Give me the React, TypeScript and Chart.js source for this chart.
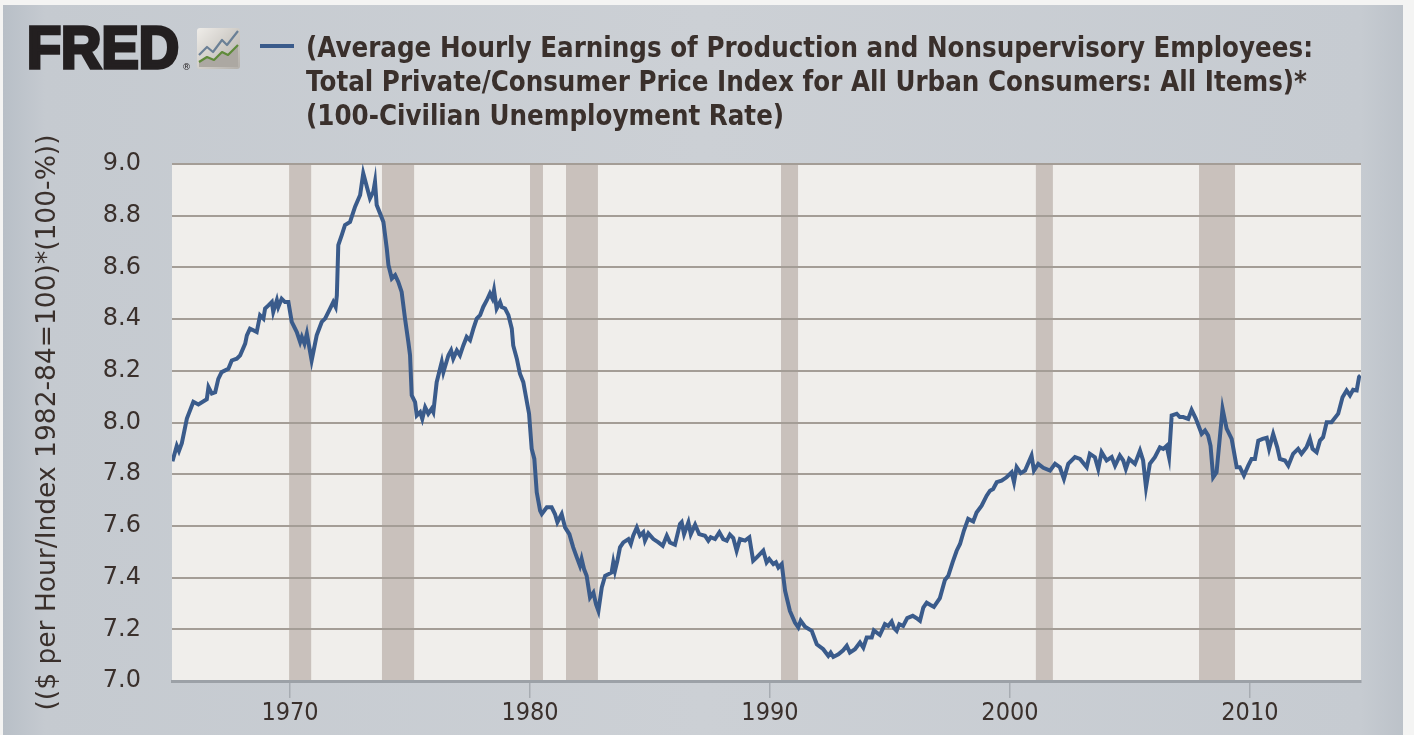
import { useEffect, useRef } from 'react';
import { Chart, registerables } from 'chart.js';

Chart.register(...registerables);

const obsDates = [
  1965.10, 1965.28, 1965.37, 1965.49, 1965.70, 1965.97, 1966.18, 1966.53, 1966.60, 1966.74,
  1966.88, 1967.01, 1967.15, 1967.43, 1967.57, 1967.78, 1967.92, 1968.13, 1968.20, 1968.33,
  1968.47, 1968.61, 1968.75, 1968.89, 1968.96, 1969.10, 1969.24, 1969.30, 1969.45, 1969.51,
  1969.65, 1969.79, 1969.93, 1970.07, 1970.28, 1970.42, 1970.49, 1970.60, 1970.70, 1970.90,
  1971.11, 1971.32, 1971.46, 1971.60, 1971.80, 1971.90, 1971.95, 1972.01, 1972.15, 1972.29,
  1972.50, 1972.71, 1972.92, 1973.05, 1973.20, 1973.33, 1973.47, 1973.54, 1973.61, 1973.75,
  1973.89, 1974.03, 1974.10, 1974.24, 1974.38, 1974.51, 1974.65, 1974.79, 1974.93, 1975.00,
  1975.07, 1975.21, 1975.28, 1975.42, 1975.51, 1975.63, 1975.76, 1975.90, 1975.97, 1976.11,
  1976.32, 1976.39, 1976.60, 1976.71, 1976.80, 1976.95, 1977.08, 1977.22, 1977.36, 1977.50,
  1977.64, 1977.78, 1977.92, 1978.05, 1978.20, 1978.33, 1978.43, 1978.50, 1978.61, 1978.75,
  1978.82, 1978.96, 1979.10, 1979.24, 1979.30, 1979.45, 1979.58, 1979.72, 1979.86, 1979.96,
  1980.07, 1980.18, 1980.28, 1980.42, 1980.49, 1980.70, 1980.90, 1981.04, 1981.14, 1981.32,
  1981.46, 1981.64, 1981.80, 1981.95, 1982.08, 1982.15, 1982.25, 1982.36, 1982.50, 1982.64,
  1982.75, 1982.85, 1982.99, 1983.13, 1983.26, 1983.40, 1983.47, 1983.54, 1983.64, 1983.75,
  1983.89, 1984.10, 1984.20, 1984.30, 1984.45, 1984.58, 1984.72, 1984.79, 1984.93, 1985.14,
  1985.35, 1985.53, 1985.70, 1985.83, 1986.04, 1986.25, 1986.32, 1986.42, 1986.60, 1986.70,
  1986.88, 1987.05, 1987.29, 1987.43, 1987.53, 1987.71, 1987.89, 1988.05, 1988.20, 1988.33,
  1988.47, 1988.61, 1988.75, 1988.96, 1989.14, 1989.30, 1989.45, 1989.72, 1989.86, 1989.97,
  1990.14, 1990.25, 1990.35, 1990.49, 1990.63, 1990.83, 1991.04, 1991.18, 1991.28, 1991.46,
  1991.74, 1991.95, 1992.22, 1992.43, 1992.53, 1992.64, 1992.85, 1993.05, 1993.20, 1993.33,
  1993.54, 1993.75, 1993.89, 1994.03, 1994.24, 1994.33, 1994.58, 1994.79, 1994.93, 1995.07,
  1995.17, 1995.28, 1995.39, 1995.55, 1995.72, 1995.95, 1996.11, 1996.25, 1996.39, 1996.53,
  1996.67, 1996.83, 1997.08, 1997.29, 1997.43, 1997.61, 1997.78, 1997.92, 1998.08, 1998.26,
  1998.47, 1998.61, 1998.82, 1999.03, 1999.17, 1999.30, 1999.45, 1999.65, 1999.86, 2000.07,
  2000.17, 2000.28, 2000.45, 2000.63, 2000.90, 2001.00, 2001.18, 2001.39, 2001.67, 2001.88,
  2002.08, 2002.25, 2002.43, 2002.71, 2002.92, 2003.20, 2003.33, 2003.54, 2003.68, 2003.82,
  2004.03, 2004.24, 2004.38, 2004.58, 2004.72, 2004.83, 2004.97, 2005.21, 2005.42, 2005.55,
  2005.67, 2005.83, 2006.04, 2006.25, 2006.39, 2006.53, 2006.63, 2006.74, 2006.95, 2007.08,
  2007.22, 2007.43, 2007.57, 2007.75, 2007.99, 2008.13, 2008.26, 2008.36, 2008.47, 2008.61,
  2008.86, 2009.03, 2009.24, 2009.45, 2009.58, 2009.75, 2009.93, 2010.07, 2010.21, 2010.35,
  2010.53, 2010.70, 2010.80, 2010.97, 2011.14, 2011.25, 2011.46, 2011.60, 2011.80, 2012.01,
  2012.15, 2012.36, 2012.50, 2012.61, 2012.78, 2012.92, 2013.05, 2013.20, 2013.40, 2013.68,
  2013.86, 2014.03, 2014.17, 2014.30, 2014.45, 2014.55, 2014.61,
];

// real wage x employment rate, same order as obsDates
const obsValues = [
  7.850, 7.910, 7.890, 7.920, 8.015, 8.080, 8.070, 8.090, 8.137, 8.112,
  8.117, 8.169, 8.195, 8.208, 8.240, 8.247, 8.260, 8.305, 8.337, 8.363,
  8.357, 8.350, 8.415, 8.402, 8.441, 8.453, 8.466, 8.428, 8.473, 8.447,
  8.479, 8.466, 8.466, 8.389, 8.350, 8.311, 8.331, 8.305, 8.344, 8.240,
  8.337, 8.389, 8.402, 8.428, 8.466, 8.447, 8.492, 8.686, 8.724, 8.764,
  8.776, 8.835, 8.880, 8.964, 8.912, 8.867, 8.893, 8.931, 8.841, 8.809,
  8.776, 8.673, 8.609, 8.557, 8.570, 8.544, 8.505, 8.402, 8.311, 8.260,
  8.105, 8.079, 8.027, 8.040, 8.014, 8.059, 8.034, 8.053, 8.040, 8.156,
  8.234, 8.195, 8.260, 8.279, 8.247, 8.279, 8.260, 8.298, 8.331, 8.318,
  8.363, 8.402, 8.415, 8.447, 8.473, 8.499, 8.480, 8.512, 8.441, 8.466,
  8.447, 8.441, 8.415, 8.363, 8.298, 8.247, 8.189, 8.156, 8.085, 8.034,
  7.898, 7.859, 7.730, 7.659, 7.646, 7.672, 7.672, 7.646, 7.614, 7.646,
  7.594, 7.568, 7.517, 7.478, 7.446, 7.472, 7.433, 7.407, 7.323, 7.342,
  7.297, 7.271, 7.362, 7.407, 7.413, 7.420, 7.459, 7.426, 7.465, 7.517,
  7.536, 7.549, 7.530, 7.562, 7.594, 7.562, 7.575, 7.543, 7.571, 7.549,
  7.536, 7.523, 7.562, 7.536, 7.527, 7.607, 7.614, 7.568, 7.614, 7.568,
  7.605, 7.568, 7.562, 7.543, 7.556, 7.549, 7.575, 7.549, 7.543, 7.566,
  7.553, 7.504, 7.549, 7.543, 7.556, 7.465, 7.478, 7.504, 7.459, 7.472,
  7.452, 7.459, 7.439, 7.452, 7.349, 7.271, 7.226, 7.207, 7.233, 7.210,
  7.194, 7.142, 7.123, 7.097, 7.110, 7.093, 7.103, 7.119, 7.136, 7.110,
  7.123, 7.149, 7.129, 7.168, 7.168, 7.196, 7.178, 7.220, 7.213, 7.230,
  7.204, 7.194, 7.220, 7.213, 7.243, 7.252, 7.243, 7.233, 7.284, 7.303,
  7.295, 7.287, 7.321, 7.391, 7.407, 7.459, 7.504, 7.530, 7.581, 7.627,
  7.617, 7.652, 7.678, 7.717, 7.736, 7.743, 7.769, 7.775, 7.788, 7.807,
  7.769, 7.827, 7.804, 7.814, 7.872, 7.814, 7.840, 7.825, 7.814, 7.840,
  7.827, 7.782, 7.840, 7.866, 7.859, 7.827, 7.879, 7.866, 7.820, 7.885,
  7.853, 7.866, 7.833, 7.872, 7.853, 7.820, 7.859, 7.840, 7.891, 7.853,
  7.749, 7.840, 7.866, 7.904, 7.898, 7.910, 7.866, 8.027, 8.034, 8.021,
  8.021, 8.014, 8.049, 8.014, 7.956, 7.969, 7.950, 7.910, 7.788, 7.807,
  8.053, 7.976, 7.937, 7.827, 7.827, 7.795, 7.833, 7.859, 7.859, 7.930,
  7.937, 7.941, 7.898, 7.956, 7.904, 7.859, 7.853, 7.833, 7.879, 7.898,
  7.879, 7.904, 7.937, 7.898, 7.885, 7.930, 7.943, 8.001, 8.001, 8.034,
  8.098, 8.124, 8.105, 8.127, 8.124, 8.176, 8.182,
];

const recessionStarts = [1969.96, 1973.83, 1980.0, 1981.5, 1990.46, 2001.08, 2007.88];
const recessionEnds = [1970.88, 1975.17, 1980.54, 1982.83, 1991.17, 2001.79, 2009.38];

const yearTicks = [1970, 1980, 1990, 2000, 2010];
const valueTicks = [7.0, 7.2, 7.4, 7.6, 7.8, 8.0, 8.2, 8.4, 8.6, 8.8, 9.0];

const titleLines = [
  '(Average Hourly Earnings of Production and Nonsupervisory Employees:',
  'Total Private/Consumer Price Index for All Urban Consumers: All Items)*',
  '(100-Civilian Unemployment Rate)',
];
const yAxisTitle = '(($ per Hour/Index 1982-84=100)*(100-%))';

const LINE_COLOR = '#3a5b8b';
const TEXT_COLOR = '#3a302c';
const TICK_FONT = '"DejaVu Sans", Verdana, sans-serif';
const YEAR_FONT = '"DejaVu Sans Condensed", "DejaVu Sans", sans-serif';
const TITLE_FONT = '"DejaVu Sans", Verdana, sans-serif';

const panelPlugin = {
  id: 'fredPanel',
  beforeDraw(chart: any) {
    const { ctx, chartArea, scales, width, height } = chart;
    ctx.save();
    ctx.fillStyle = '#f4f4f3';
    ctx.fillRect(0, 0, width, height);

    const g = ctx.createLinearGradient(3, 0, width - 11, 0);
    g.addColorStop(0, '#b8bfc7');
    g.addColorStop(0.03, '#c5cad0');
    g.addColorStop(0.5, '#ccd0d5');
    g.addColorStop(0.97, '#c6cbd1');
    g.addColorStop(1, '#bcc2c9');
    ctx.fillStyle = g;
    ctx.fillRect(3, 5, width - 14, height - 5);

    ctx.fillStyle = '#f0eeeb';
    ctx.fillRect(chartArea.left, chartArea.top, chartArea.right - chartArea.left, chartArea.bottom - chartArea.top);

    ctx.fillStyle = '#c9c1bc';
    recessionStarts.forEach((start, i) => {
      const x0 = scales.x.getPixelForValue(start);
      const x1 = scales.x.getPixelForValue(recessionEnds[i]);
      ctx.fillRect(x0, chartArea.top, x1 - x0, chartArea.bottom - chartArea.top);
    });
    ctx.restore();
  },
};

const headerPlugin = {
  id: 'fredHeader',
  afterDraw(chart: any) {
    const ctx: CanvasRenderingContext2D = chart.ctx;
    ctx.save();

    // FRED wordmark
    ctx.fillStyle = '#231f20';
    ctx.strokeStyle = '#231f20';
    ctx.lineWidth = 3.5;
    ctx.lineJoin = 'miter';
    ctx.textBaseline = 'alphabetic';
    ctx.font = 'bold 59px "Liberation Sans", Arial, sans-serif';
    const fw = ctx.measureText('FRED').width;
    ctx.save();
    ctx.translate(27, 68);
    ctx.scale(152 / fw, 1);
    ctx.fillText('FRED', 0, 0);
    ctx.strokeText('FRED', 0, 0);
    ctx.restore();
    ctx.font = '9px "DejaVu Sans", sans-serif';
    ctx.fillText('®', 182, 70);

    // small chart icon
    const ix = 197;
    const iy = 28;
    const ig = ctx.createLinearGradient(ix, iy, ix + 43, iy + 41);
    ig.addColorStop(0, '#efede9');
    ig.addColorStop(1, '#b3afa9');
    ctx.fillStyle = ig;
    ctx.beginPath();
    ctx.roundRect(ix, iy, 43, 41, 3);
    ctx.fill();
    ctx.fillStyle = '#aca8a2';
    ctx.beginPath();
    ctx.moveTo(ix + 2, iy + 34);
    ctx.lineTo(ix + 10, iy + 29);
    ctx.lineTo(ix + 17, iy + 32);
    ctx.lineTo(ix + 25, iy + 24);
    ctx.lineTo(ix + 31, iy + 27);
    ctx.lineTo(ix + 41, iy + 17);
    ctx.lineTo(ix + 41, iy + 39);
    ctx.lineTo(ix + 2, iy + 39);
    ctx.closePath();
    ctx.fill();
    ctx.lineWidth = 2.2;
    ctx.lineJoin = 'round';
    ctx.strokeStyle = '#5f8a3a';
    ctx.beginPath();
    ctx.moveTo(ix + 2, iy + 34);
    ctx.lineTo(ix + 10, iy + 29);
    ctx.lineTo(ix + 17, iy + 32);
    ctx.lineTo(ix + 25, iy + 24);
    ctx.lineTo(ix + 31, iy + 27);
    ctx.lineTo(ix + 41, iy + 17);
    ctx.stroke();
    ctx.strokeStyle = '#6b8096';
    ctx.beginPath();
    ctx.moveTo(ix + 2, iy + 27);
    ctx.lineTo(ix + 10, iy + 19);
    ctx.lineTo(ix + 16, iy + 24);
    ctx.lineTo(ix + 25, iy + 12);
    ctx.lineTo(ix + 30, iy + 17);
    ctx.lineTo(ix + 41, iy + 3);
    ctx.stroke();

    // legend key
    ctx.strokeStyle = LINE_COLOR;
    ctx.lineWidth = 4;
    ctx.lineCap = 'butt';
    ctx.beginPath();
    ctx.moveTo(260, 46);
    ctx.lineTo(294, 46);
    ctx.stroke();

    // title: bold sans, squeezed so the first line spans the reference width
    ctx.font = `bold 28px ${TITLE_FONT}`;
    const tw = ctx.measureText(titleLines[0]).width;
    const squeeze = Math.min(1, 1007 / tw);
    ctx.fillStyle = TEXT_COLOR;
    ctx.textAlign = 'left';
    titleLines.forEach((line, i) => {
      ctx.save();
      ctx.translate(306, 57 + i * 34);
      ctx.scale(squeeze, 1);
      ctx.fillText(line, 0, 0);
      ctx.restore();
    });

    ctx.restore();
  },
};

export default function App() {
  const canvas = useRef<HTMLCanvasElement | null>(null);

  useEffect(() => {
    const node = canvas.current;
    if (!node) {
      return;
    }

    const points = obsDates.map((d, i) => ({ x: d, y: obsValues[i] }));

    const chart = new Chart(node, {
      type: 'line',
      data: {
        datasets: [
          {
            label: titleLines.join(' '),
            data: points,
            borderColor: LINE_COLOR,
            borderWidth: 4,
            pointRadius: 0,
            tension: 0,
            fill: false,
          },
        ],
      },
      options: {
        animation: false,
        responsive: false,
        devicePixelRatio: 1,
        layout: { padding: { top: 164, right: 53, left: 0, bottom: 0 } },
        plugins: {
          legend: { display: false },
          tooltip: { enabled: false },
        },
        scales: {
          x: {
            type: 'linear',
            min: 1965.08,
            max: 2014.63,
            afterBuildTicks: (scale: any) => {
              scale.ticks = yearTicks.map((v) => ({ value: v }));
            },
            afterFit: (scale: any) => {
              scale.height = 54;
            },
            grid: {
              drawOnChartArea: false,
              drawTicks: true,
              tickLength: 17,
              color: '#a7acb2',
              lineWidth: 1.5,
            },
            border: { display: true, color: '#9ca1a7', width: 3 },
            ticks: {
              color: TEXT_COLOR,
              font: { family: YEAR_FONT, size: 25 },
              padding: 0,
              maxRotation: 0,
              autoSkip: false,
              callback: (v: any) => String(v),
            },
          },
          y: {
            min: 7,
            max: 9,
            afterBuildTicks: (scale: any) => {
              scale.ticks = valueTicks.map((v) => ({ value: v }));
            },
            afterFit: (scale: any) => {
              scale.width = 172;
            },
            grid: { color: '#a49d96', lineWidth: 2, drawTicks: false },
            border: { display: false },
            ticks: {
              color: TEXT_COLOR,
              font: { family: TICK_FONT, size: 24 },
              padding: 31,
              callback: (v: any) => Number(v).toFixed(1),
            },
            title: {
              display: true,
              text: yAxisTitle,
              color: TEXT_COLOR,
              font: { family: TICK_FONT, size: 26.5 },
              padding: { top: 32, bottom: 0 },
            },
          },
        },
      },
      plugins: [panelPlugin, headerPlugin],
    });

    return () => {
      chart.destroy();
    };
  }, []);

  return (
    <div style={{ position: 'fixed', left: 0, top: 0, width: 1414, height: 735 }}>
      <canvas
        ref={canvas}
        width={1414}
        height={735}
        role="img"
        aria-label="FRED real hourly earnings times employment rate chart"
      />
    </div>
  );
}
